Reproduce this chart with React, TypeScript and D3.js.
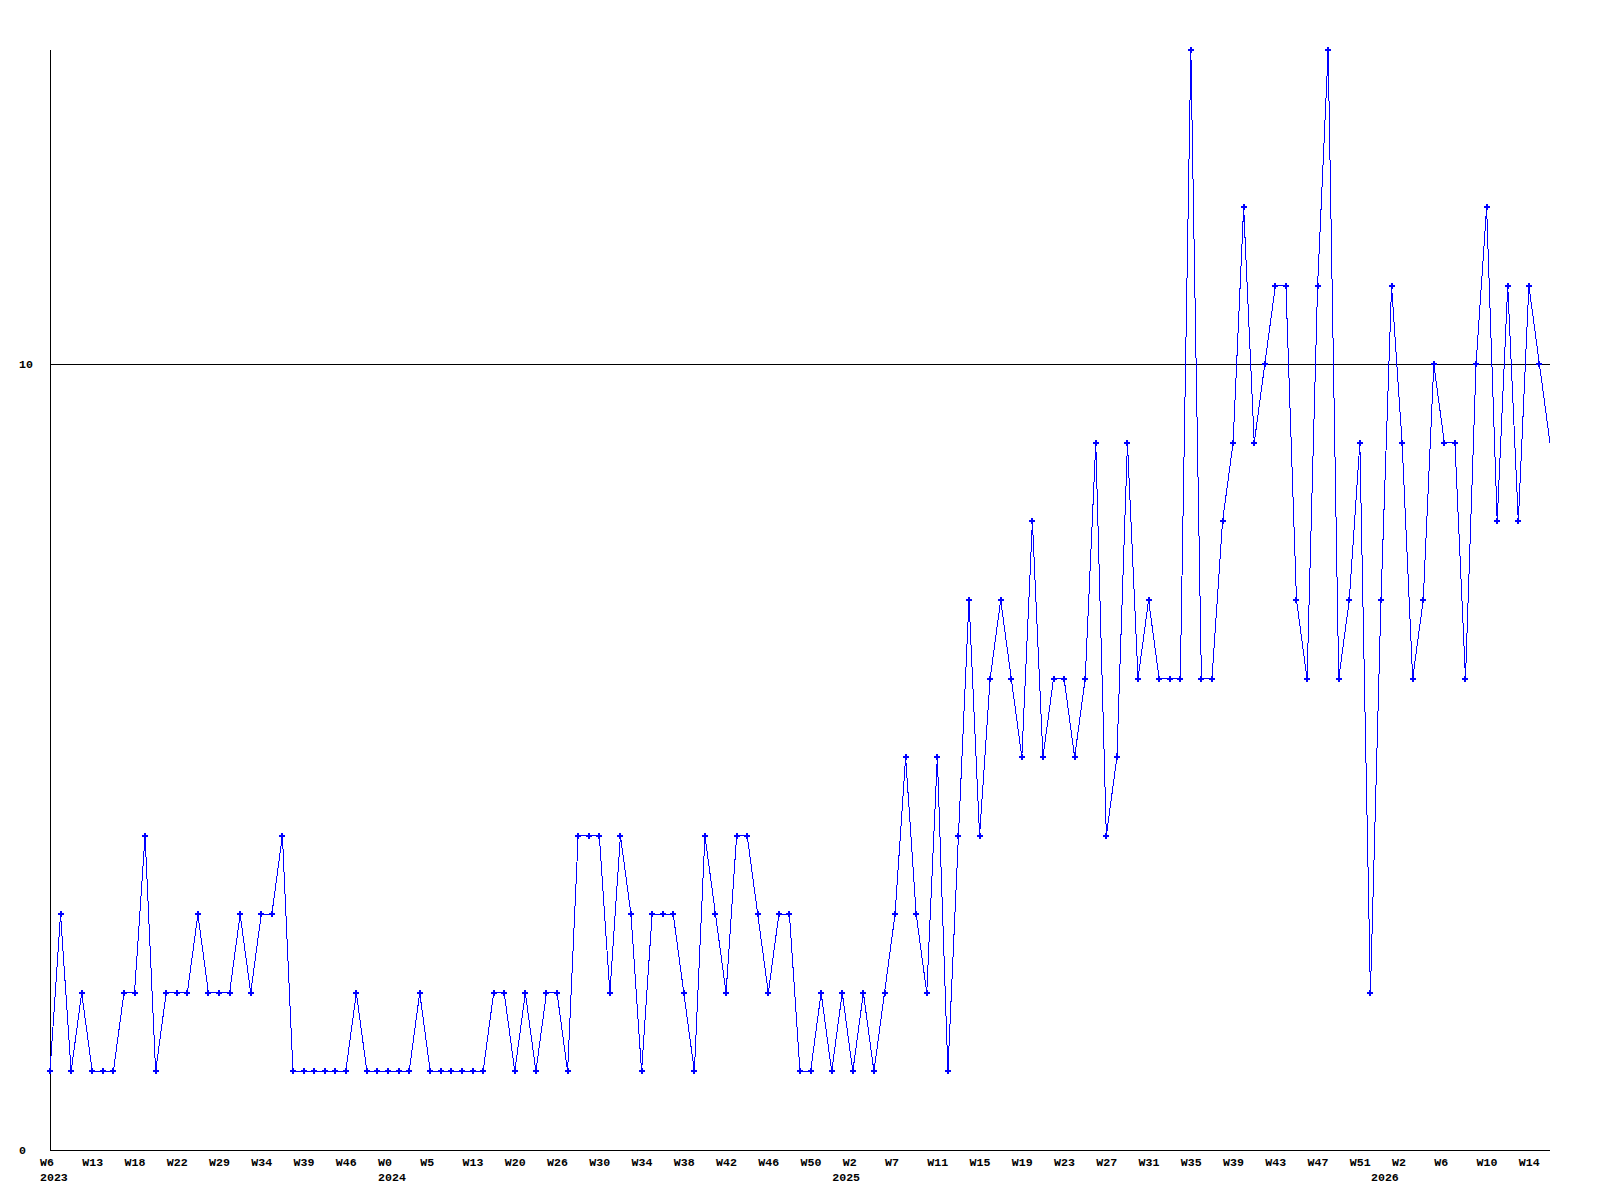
import * as d3 from "d3";

// weekly counts
const values = [
  1, 3, 1, 2, 1, 1, 1, 2, 2, 4, 1, 2, 2, 2, 3, 2, 2, 2, 3, 2, 3, 3, 4, 1, 1, 1, 1, 1,
  1, 2, 1, 1, 1, 1, 1, 2, 1, 1, 1, 1, 1, 1, 2, 2, 1, 2, 1, 2, 2, 1, 4, 4, 4, 2, 4, 3,
  1, 3, 3, 3, 2, 1, 4, 3, 2, 4, 4, 3, 2, 3, 3, 1, 1, 2, 1, 2, 1, 2, 1, 2, 3, 5, 3,
  2, 5, 1, 4, 7, 4, 6, 7, 6, 5, 8, 5, 6, 6, 5, 6,
  9, 4, 5, 9, 6, 7, 6, 6, 6, 14, 6, 6, 8, 9, 12, 9,
  10, 11, 11, 7, 6, 11, 14, 6, 7, 9, 2, 7, 11, 9, 6,
  7, 10, 9, 9, 6, 10, 12, 8, 11, 8, 11, 10, 9,
];

// one week label every 4th point
const weekLabels = [
  "W6", "W13", "W18", "W22", "W29", "W34", "W39", "W46",
  "W0", "W5", "W13", "W20", "W26", "W30", "W34", "W38", "W42", "W46", "W50",
  "W2", "W7", "W11", "W15", "W19", "W23", "W27", "W31", "W35", "W39", "W43", "W47", "W51",
  "W2", "W6", "W10", "W14",
];
const weekStep = 4;

const yearLabels = ["2023", "2024", "2025", "2026"];
const yearIndex = [0, 32, 75, 126];

const yTicks = [0, 10];
const yMax = 14;

const width = 1600;
const height = 1200;
const left = 50;
const right = 1550;
const top = 50;
const bottom = 1150;

const font = "'Liberation Mono', 'DejaVu Sans Mono', monospace";

export default function App() {
  const x = d3.scaleLinear().domain([0, values.length - 1]).range([left, right]);
  const y = d3.scaleLinear().domain([0, yMax]).range([bottom, top]);

  const line = d3
    .line<number>()
    .x((_, i) => x(i))
    .y((d) => y(d));

  const cross = d3.symbol(d3.symbolCross, 20)();

  return (
    <svg
      width={width}
      height={height}
      style={{ position: "absolute", left: 0, top: 0, background: "#fff" }}
    >
      <rect x={0} y={0} width={width} height={height} fill="#fff" />

      {/* grid line at 10 */}
      {yTicks
        .filter((t) => t > 0)
        .map((t) => (
          <line
            key={"g" + t}
            x1={left}
            x2={right}
            y1={Math.round(y(t)) + 0.5}
            y2={Math.round(y(t)) + 0.5}
            stroke="#000"
            strokeWidth={1}
            shapeRendering="crispEdges"
          />
        ))}

      {/* axes */}
      <line x1={left + 0.5} x2={left + 0.5} y1={top} y2={bottom + 0.5} stroke="#000" shapeRendering="crispEdges" />
      <line x1={left} x2={right} y1={bottom + 0.5} y2={bottom + 0.5} stroke="#000" shapeRendering="crispEdges" />

      {yTicks.map((t) => (
        <text
          key={"y" + t}
          x={19}
          y={y(t) + 4}
          fontFamily={font}
          fontWeight="bold"
          fontSize={11.6}
          fill="#000"
        >
          {t}
        </text>
      ))}

      {weekLabels.map((w, i) => (
        <text
          key={"w" + i}
          x={x(i * weekStep) - 10}
          y={1166}
          fontFamily={font}
          fontWeight="bold"
          fontSize={11.6}
          fill="#000"
        >
          {w}
        </text>
      ))}

      {yearLabels.map((yr, i) => (
        <text
          key={"yr" + yr}
          x={x(yearIndex[i]) - 10}
          y={1181}
          fontFamily={font}
          fontWeight="bold"
          fontSize={11.6}
          fill="#000"
        >
          {yr}
        </text>
      ))}

      <path
        d={line(values) || ""}
        fill="none"
        stroke="#0000ff"
        strokeWidth={1}
        shapeRendering="crispEdges"
      />

      {values.slice(0, -1).map((v, i) => (
        <path
          key={"m" + i}
          d={cross || ""}
          transform={`translate(${x(i)},${y(v)})`}
          fill="#0000ff"
          shapeRendering="crispEdges"
        />
      ))}
    </svg>
  );
}
